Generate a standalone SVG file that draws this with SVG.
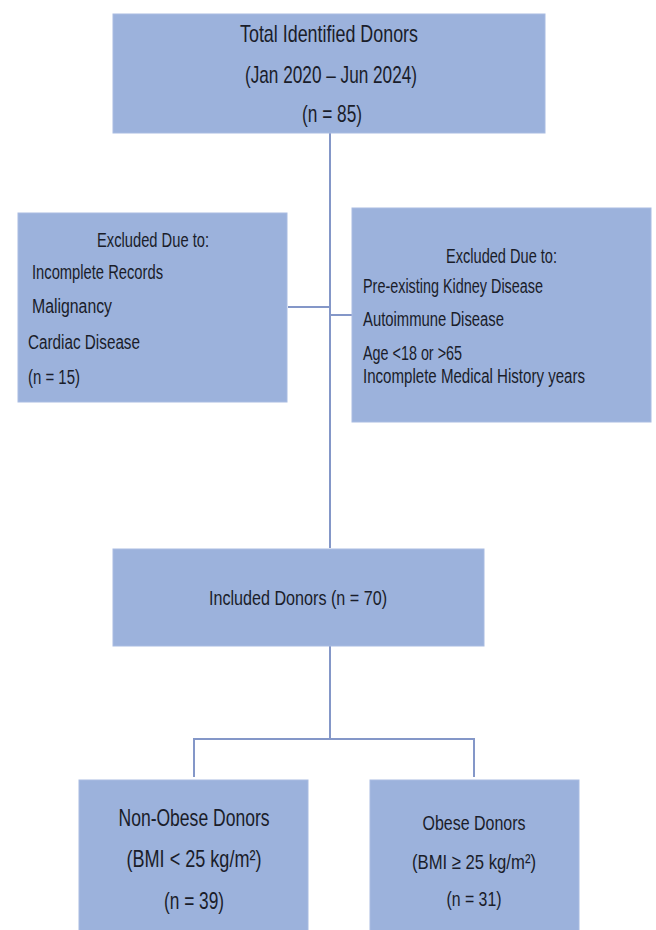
<svg xmlns="http://www.w3.org/2000/svg" width="656" height="930" viewBox="0 0 656 930">
<style>
.box{fill:#9cb2dc;stroke:#a9bce2;stroke-width:1}
.t{font-family:"Liberation Sans",Arial,sans-serif;fill:#1a1d2a}
.lg{font-size:24px}
.md{font-size:21px}
.sm{font-size:20px}
.c{text-anchor:middle}
.ln{stroke:#8497c8;stroke-width:2;fill:none}
</style>
<rect width="656" height="930" fill="#ffffff"/>
<g id="connectors">
<line class="ln" x1="330" y1="133" x2="330" y2="548"/>
<line class="ln" x1="288" y1="307" x2="330" y2="307"/>
<line class="ln" x1="330" y1="315" x2="352" y2="315"/>
<line class="ln" x1="330" y1="646" x2="330" y2="739"/>
<polyline class="ln" points="194,777 194,739 474,739 474,777"/>
</g>
<g id="total">
<rect class="box" x="113" y="14" width="432" height="119"/>
<text class="t lg c" x="329" y="42" textLength="178" lengthAdjust="spacingAndGlyphs">Total Identified Donors</text>
<text class="t lg c" x="331" y="83" textLength="172" lengthAdjust="spacingAndGlyphs">(Jan 2020 – Jun 2024)</text>
<text class="t lg c" x="332" y="122" textLength="60" lengthAdjust="spacingAndGlyphs">(n = 85)</text>
</g>
<g id="excluded-left">
<rect class="box" x="18" y="213" width="269" height="189"/>
<text class="t sm" x="97" y="247" textLength="112" lengthAdjust="spacingAndGlyphs">Excluded Due to:</text>
<text class="t sm" x="32" y="279" textLength="131" lengthAdjust="spacingAndGlyphs">Incomplete Records</text>
<text class="t sm" x="32" y="313" textLength="80" lengthAdjust="spacingAndGlyphs">Malignancy</text>
<text class="t sm" x="28" y="349" textLength="112" lengthAdjust="spacingAndGlyphs">Cardiac Disease</text>
<text class="t sm" x="28" y="384" textLength="52" lengthAdjust="spacingAndGlyphs">(n = 15)</text>
</g>
<g id="excluded-right">
<rect class="box" x="352" y="208" width="299" height="214"/>
<text class="t sm" x="446" y="263" textLength="111" lengthAdjust="spacingAndGlyphs">Excluded Due to:</text>
<text class="t sm" x="363" y="293" textLength="180" lengthAdjust="spacingAndGlyphs">Pre-existing Kidney Disease</text>
<text class="t sm" x="363" y="326" textLength="141" lengthAdjust="spacingAndGlyphs">Autoimmune Disease</text>
<text class="t sm" x="363" y="360" textLength="99" lengthAdjust="spacingAndGlyphs">Age &lt;18 or &gt;65</text>
<text class="t sm" x="363" y="383" textLength="222" lengthAdjust="spacingAndGlyphs">Incomplete Medical History years</text>
</g>
<g id="included">
<rect class="box" x="113" y="549" width="371" height="97"/>
<text class="t md c" x="298" y="605" textLength="178" lengthAdjust="spacingAndGlyphs">Included Donors (n = 70)</text>
</g>
<g id="non-obese">
<rect class="box" x="79" y="780" width="229" height="160"/>
<text class="t lg c" x="194" y="826" textLength="151" lengthAdjust="spacingAndGlyphs">Non-Obese Donors</text>
<text class="t lg c" x="194" y="867" textLength="135" lengthAdjust="spacingAndGlyphs">(BMI &lt; 25 kg/m²)</text>
<text class="t lg c" x="194" y="909" textLength="60" lengthAdjust="spacingAndGlyphs">(n = 39)</text>
</g>
<g id="obese">
<rect class="box" x="370" y="780" width="209" height="160"/>
<text class="t md c" x="474" y="830" textLength="103" lengthAdjust="spacingAndGlyphs">Obese Donors</text>
<text class="t md c" x="474" y="869" textLength="124" lengthAdjust="spacingAndGlyphs">(BMI ≥ 25 kg/m²)</text>
<text class="t md c" x="474" y="906" textLength="55" lengthAdjust="spacingAndGlyphs">(n = 31)</text>
</g>
</svg>
